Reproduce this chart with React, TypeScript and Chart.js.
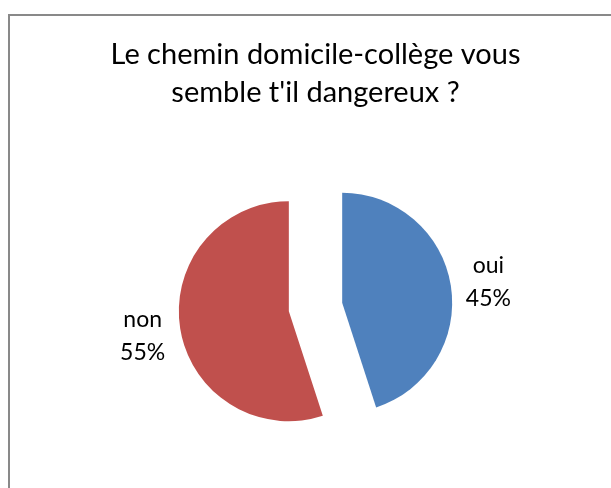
import React, { useEffect, useRef } from "react";
import { Chart, registerables } from "chart.js";

Chart.register(...registerables);

const categories = ["oui", "non"];
const values = [45, 55];
const percentLabels = ["45%", "55%"];
const colors = ["#4F81BD", "#C0504D"];
const titleLines = ["Le chemin domicile-collège vous", "semble t'il dangereux ?"];

const RADIUS = 110;
const EXPLODE = 27;
const FONT = "Lato";

export default function App() {
  const ref = useRef<HTMLCanvasElement>(null);

  useEffect(() => {
    if (!ref.current) return;

    const frame = {
      id: "frame",
      beforeDraw(chart: any) {
        const c = chart.ctx;
        c.save();
        c.fillStyle = "#ffffff";
        c.fillRect(0, 0, chart.width, chart.height);
        c.strokeStyle = "#898989";
        c.lineWidth = 2;
        c.strokeRect(9, 15, chart.width + 40, chart.height + 40);
        c.restore();
      },
    };

    // explode each slice along its mid-angle without changing its radius or angles
    const explode = {
      id: "explode",
      afterDatasetUpdate(chart: any, args: any) {
        const meta = chart.getDatasetMeta(args.index);
        meta.data.forEach((arc: any) => {
          if (arc.__exploded) return;
          const orig = arc.draw.bind(arc);
          arc.draw = (ctx: CanvasRenderingContext2D) => {
            const half = (arc.startAngle + arc.endAngle) / 2;
            ctx.save();
            ctx.translate(Math.cos(half) * EXPLODE, Math.sin(half) * EXPLODE);
            orig(ctx);
            ctx.restore();
          };
          arc.__exploded = true;
        });
      },
    };

    const sliceLabels = {
      id: "sliceLabels",
      afterDatasetsDraw(chart: any) {
        const c = chart.ctx;
        const meta = chart.getDatasetMeta(0);
        c.save();
        c.fillStyle = "#000000";
        c.font = `23px ${FONT}`;
        c.textAlign = "center";
        c.textBaseline = "middle";
        meta.data.forEach((arc: any, i: number) => {
          const half = (arc.startAngle + arc.endAngle) / 2;
          const d = EXPLODE + RADIUS + 38;
          const cx = arc.x + Math.cos(half) * d;
          const cy = arc.y + Math.sin(half) * d + 2;
          c.fillText(categories[i], cx, cy - 16.5);
          c.fillText(percentLabels[i], cx, cy + 16.5);
        });
        c.restore();
      },
    };

    const chart = new Chart(ref.current, {
      type: "pie",
      data: {
        labels: categories,
        datasets: [
          {
            data: values,
            backgroundColor: colors,
            borderWidth: 0,
          },
        ],
      },
      options: {
        responsive: false,
        animation: false,
        events: [],
        radius: RADIUS,
        layout: { padding: { left: 20, right: 0, top: 0, bottom: 6 } },
        plugins: {
          legend: { display: false },
          tooltip: { enabled: false },
          title: {
            display: true,
            text: titleLines,
            color: "#000000",
            font: { family: FONT, size: 29, weight: "normal", lineHeight: 38 / 29 },
            padding: { top: 36, bottom: 20 },
          },
        },
      } as any,
      plugins: [frame, explode, sliceLabels],
    });

    return () => chart.destroy();
  }, []);

  return (
    <div style={{ position: "fixed", left: 0, top: 0, width: 611, height: 488, overflow: "hidden", background: "#fff" }}>
      <canvas ref={ref} width={611} height={488} style={{ display: "block" }} />
    </div>
  );
}
